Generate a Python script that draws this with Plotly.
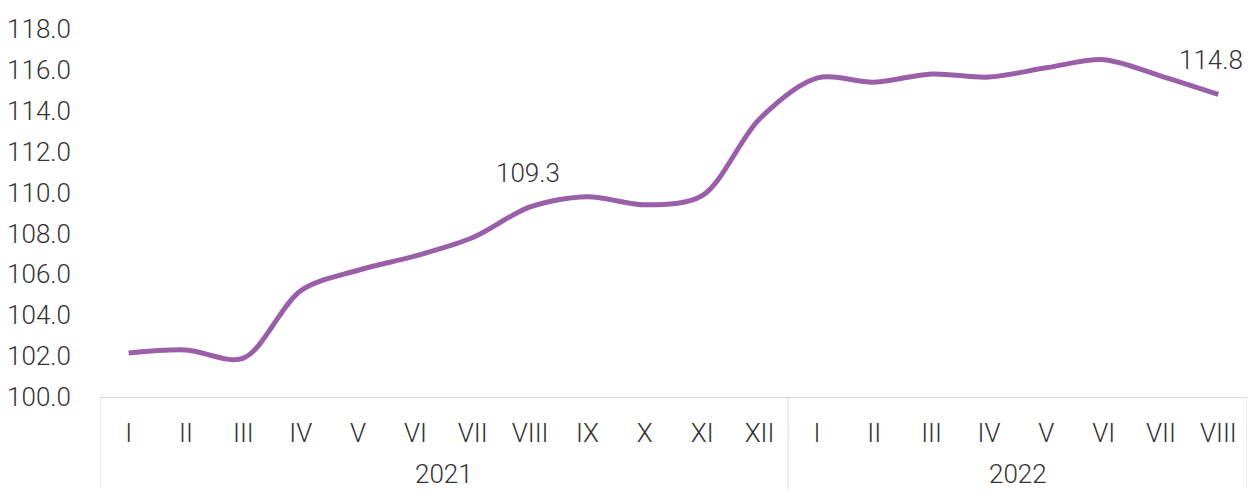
import plotly.graph_objects as go

years = ["2021", "2022"]
year_counts = [12, 8]
months = ["I", "II", "III", "IV", "V", "VI", "VII", "VIII", "IX", "X", "XI", "XII",
          "I", "II", "III", "IV", "V", "VI", "VII", "VIII"]
values = [102.15, 102.3, 101.9, 105.2, 106.2, 106.9, 107.8, 109.3, 109.8, 109.4, 109.85, 113.6,
          115.6, 115.4, 115.8, 115.65, 116.1, 116.5, 115.7, 114.8]
labelled = [7, 19]

font = dict(family="Roboto Light, Roboto", size=26, color="#333333", weight=300)
grey = "#d9d9d9"
idx = list(range(len(values)))

fig = go.Figure()
fig.add_scatter(
    x=idx,
    y=values,
    mode="lines",
    line=dict(color="#995FA8", width=5, shape="spline", smoothing=0.9),
    showlegend=False,
)

# data labels
for i in labelled:
    fig.add_annotation(
        x=i, y=values[i], text=f"{values[i]:.1f}", showarrow=False,
        yshift=34, xshift=-7 if i == len(values) - 1 else -2, font=font,
    )

# year group labels and dividers below the axis
start = 0
fig.add_shape(type="line", xref="x", yref="paper", x0=-0.5, x1=-0.5, y0=0, y1=-0.35,
              line=dict(color=grey, width=1))
for yr, n in zip(years, year_counts):
    end = start + n
    fig.add_shape(type="line", xref="x", yref="paper", x0=end - 0.5, x1=end - 0.5,
                  y0=0, y1=-0.35, line=dict(color=grey, width=1))
    fig.add_annotation(x=(start + end - 1) / 2, y=0, xref="x", yref="paper",
                       yanchor="middle", yshift=-77,
                       text=yr, showarrow=False, font=font)
    start = end

fig.update_layout(
    margin=dict(l=92, r=0, t=21, b=92),
    plot_bgcolor="white",
    paper_bgcolor="white",
    font=font,
    xaxis=dict(
        range=[-0.5, len(values) - 0.5],
        tickvals=idx,
        ticktext=months,
        showline=True,
        linecolor=grey,
        linewidth=1,
        showgrid=False,
        zeroline=False,
        ticks="",
        ticklabelstandoff=13,
        tickfont=font,
    ),
    yaxis=dict(
        range=[100, 118],
        dtick=2,
        tickformat=".1f",
        showgrid=False,
        showline=False,
        zeroline=False,
        tickfont=font,
        ticklabelstandoff=28,
    ),
)
fig.write_html("out.html")
